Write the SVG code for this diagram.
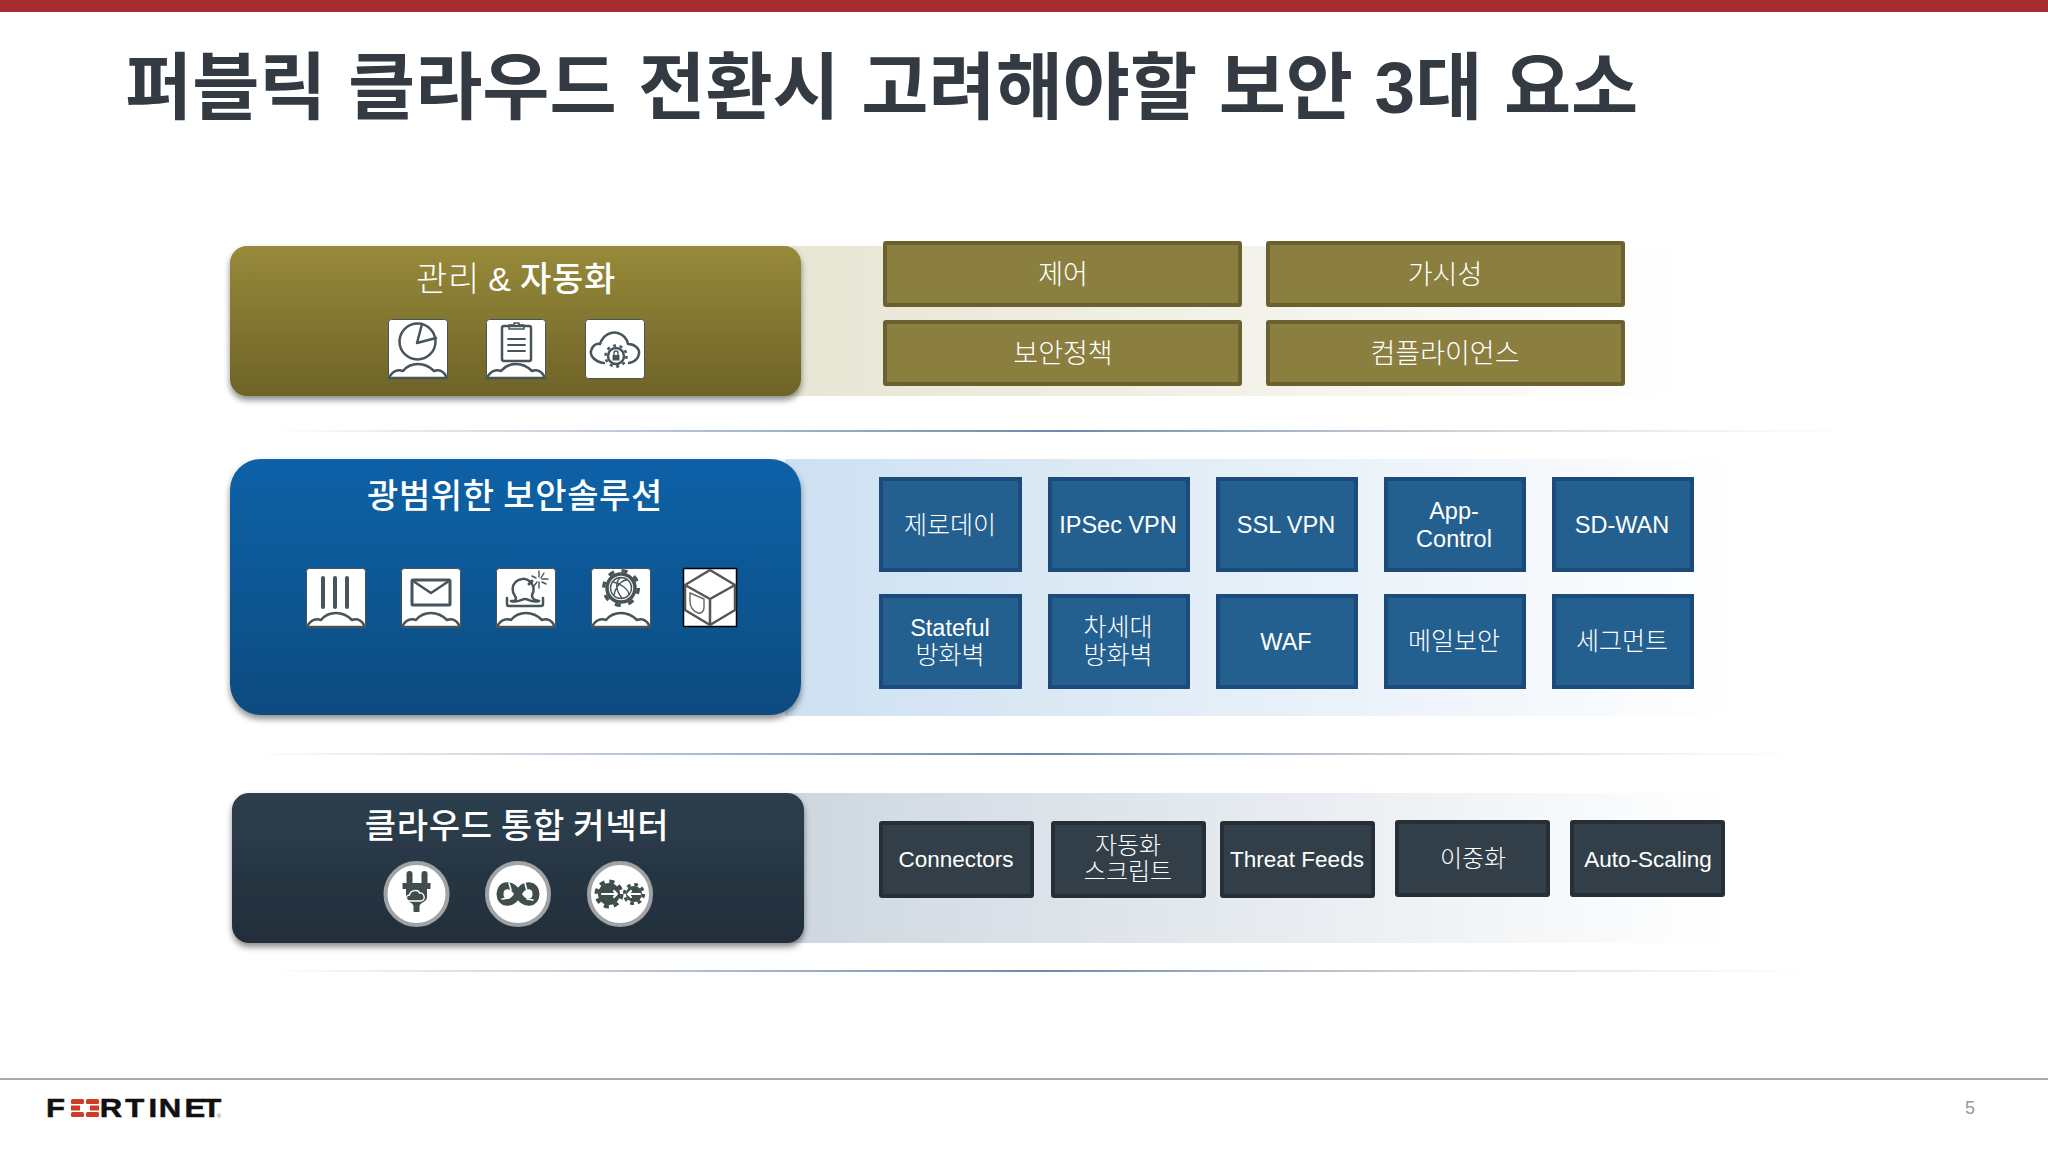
<svg xmlns="http://www.w3.org/2000/svg" width="2048" height="1152" viewBox="0 0 2048 1152">
<style>
text{font-family:"Liberation Sans","Noto Sans CJK KR",sans-serif;text-anchor:middle;fill:#fff}
.k{font-family:"Noto Sans CJK KR","Liberation Sans",sans-serif}
.ph{font-size:34px;letter-spacing:.7px}
.b{font-weight:700}
.m{font-weight:500}
.l{font-weight:300}
.ol{font-size:27px}
.bl{font-size:25px}
.dk{font-size:24px}
.la{font-size:23.5px}
.ld{font-size:22.5px}
.ob{fill:#8a7f3f;stroke:#6a6030;stroke-width:4}
.bb{fill:#24608f;stroke:#1c4b7a;stroke-width:4}
.db{fill:#323f49;stroke:#262f38;stroke-width:4}
.tile{fill:#fff;stroke:#47555a;stroke-width:1}
.i{fill:none;stroke:#47555a;stroke-width:2.5;stroke-linecap:round;stroke-linejoin:round}
.t{stroke-width:1.4}
.d{fill:#3f4d4c;stroke:none}
.w{fill:none;stroke:#fff;stroke-width:2.2;stroke-linecap:round;stroke-linejoin:round}
.c{fill:#fff;stroke:#a0a2a4;stroke-width:4}
</style>
<defs>
<linearGradient id="gO" x1="0" y1="0" x2="0" y2="1"><stop offset="0" stop-color="#978a3a"/><stop offset="1" stop-color="#6e6328"/></linearGradient>
<linearGradient id="gB" x1="0" y1="0" x2="0" y2="1"><stop offset="0" stop-color="#0f62a8"/><stop offset="1" stop-color="#0f4b80"/></linearGradient>
<linearGradient id="gD" x1="0" y1="0" x2="0" y2="1"><stop offset="0" stop-color="#2d3f4e"/><stop offset="1" stop-color="#222e3b"/></linearGradient>
<linearGradient id="bO"><stop offset="0" stop-color="#e7e5d3"/><stop offset="1" stop-color="#fff"/></linearGradient>
<linearGradient id="bB"><stop offset="0" stop-color="#cde0f1"/><stop offset="1" stop-color="#fff"/></linearGradient>
<linearGradient id="bD"><stop offset="0" stop-color="#ced7e0"/><stop offset="1" stop-color="#fff"/></linearGradient>
<linearGradient id="sep"><stop offset="0" stop-color="#6f88a8" stop-opacity="0"/><stop offset=".5" stop-color="#6f88a8"/><stop offset="1" stop-color="#c8c8c0" stop-opacity="0"/></linearGradient>
<filter id="sh" x="-5%" y="-5%" width="110%" height="115%"><feDropShadow dx="0" dy="4" stdDeviation="3" flood-color="#000" flood-opacity=".45"/></filter>
<g id="cloudTile">
<rect class="tile" x=".5" y=".5" width="59" height="59" rx="3"/>
<path d="M1 59 C4 52 10 50 15 52 C19 47 25 45 30 45 C36 45 42 48 46 52 C51 50 56 52 59 59 Z" fill="#fff" stroke="#47555a" stroke-width="2.5" stroke-linejoin="round"/>
</g>
</defs>
<rect width="2048" height="1152" fill="#fff"/>
<rect width="2048" height="12" fill="#a62c32"/>
<text id="title" class="k b" x="125" y="113" style="font-size:73px;text-anchor:start;fill:#333a42;word-spacing:5px">퍼블릭 클라우드 전환시 고려해야할 보안 <tspan style="font-family:'Liberation Sans'">3</tspan>대 요소</text>

<g id="bands">
<rect x="785" y="246" width="900" height="150" fill="url(#bO)"/>
<rect x="785" y="459" width="955" height="257" fill="url(#bB)"/>
<rect x="788" y="793" width="940" height="150" fill="url(#bD)"/>
</g>
<g id="separators">
<rect x="270" y="430" width="1590" height="2" fill="url(#sep)"/>
<rect x="250" y="753" width="1560" height="2" fill="url(#sep)"/>
<rect x="270" y="970" width="1550" height="2" fill="url(#sep)"/>
</g>

<g id="panel-mgmt">
<rect x="230" y="246" width="571" height="150" rx="17" fill="url(#gO)" filter="url(#sh)"/>
<text class="k ph" x="516" y="291"><tspan class="l">관리 </tspan><tspan style="font-family:'Liberation Sans'">&amp;</tspan> <tspan class="m">자동화</tspan></text>
<g transform="translate(388,319)"><use href="#cloudTile"/>
<circle class="i" cx="29.5" cy="22.5" r="18"/><path class="i" d="M34 5 L29 24 L48 19"/></g>
<g transform="translate(486,319)"><use href="#cloudTile"/>
<rect class="i" x="16" y="7" width="29" height="35" rx="2"/><path class="i" d="M23 10 H38 V6 H33 V4 H28 V6 H23 Z" style="stroke-width:1.6"/>
<path class="i" d="M22 20 H39 M22 26 H39 M22 32 H39" style="stroke-width:1.8"/></g>
<g transform="translate(585,319)"><rect class="tile" x=".5" y=".5" width="59" height="59" rx="3"/>
<path class="i" d="M19 44 C10 43 5 37 6 32 C7 27 11 24 15 25 C18 16 26 12 33 14 C39 16 42 20 43 25 C50 25 55 30 54 35 C53 40 49 43 44 44"/>
<circle cx="31" cy="37" r="8" fill="#fff" stroke="#47555a" stroke-width="2.5"/><circle cx="31" cy="37" r="10.5" fill="none" stroke="#47555a" stroke-width="2.5" stroke-dasharray="3 3.6"/>
<rect x="27.5" y="36" width="7" height="5.5" fill="#47555a"/><path d="M29 36 V34 A2 2 0 0 1 33 34 V36" fill="none" stroke="#47555a" stroke-width="1.4"/></g>
</g>

<g id="box-control"><rect class="ob" x="885" y="243" width="355" height="62" rx="1"/><text class="k l ol" x="1063" y="284">제어</text></g>
<g id="box-visibility"><rect class="ob" x="1268" y="243" width="355" height="62" rx="1"/><text class="k l ol" x="1445" y="284">가시성</text></g>
<g id="box-policy"><rect class="ob" x="885" y="322" width="355" height="62" rx="1"/><text class="k l ol" x="1063" y="363">보안정책</text></g>
<g id="box-compliance"><rect class="ob" x="1268" y="322" width="355" height="62" rx="1"/><text class="k l ol" x="1445" y="363">컴플라이언스</text></g>

<g id="panel-security">
<rect x="230" y="459" width="571" height="256" rx="31" fill="url(#gB)" filter="url(#sh)"/>
<text class="k m ph" x="515" y="508">광범위한 보안솔루션</text>
<g transform="translate(306,568)"><use href="#cloudTile"/><path class="i" d="M17 10 V39 M29 10 V39 M41 10 V39" style="stroke-width:4"/></g>
<g transform="translate(401,568)"><use href="#cloudTile"/><rect class="i" x="11" y="12" width="38" height="25" rx="1" style="stroke-width:3"/><path class="i" d="M12 13 L30 25 L48 13"/></g>
<g transform="translate(496,568)"><use href="#cloudTile"/>
<path class="i" d="M11 30 V36 Q11 38 13 38 H45 Q47 38 47 36 V30"/>
<path class="i" d="M15 33 C20 33 21 31 19 28 A10.5 10.5 0 1 1 36 27 C36 31 38 32 43 33 C35 35 33 31 29 31 C25 31 23 35 15 33 Z"/>
<path class="i" d="M33 16 L36 13" style="stroke-width:3"/>
<path class="i t" d="M43 3 V9 M43 14 V20 M36 8 L40 10 M46 14 L50 16 M48 5 L45 10 M41 14 L38 18 M46 11 H52"/></g>
<g transform="translate(591,568)"><use href="#cloudTile"/>
<circle cx="30" cy="20" r="14" fill="none" stroke="#47555a" stroke-width="3.5"/><circle cx="30" cy="20" r="17.3" fill="none" stroke="#47555a" stroke-width="3.4" stroke-dasharray="6 7.59"/>
<circle class="i t" cx="30" cy="20" r="10.5"/><path class="i t" d="M22 14 C29 15 37 21 38 26 M23 27 C24 20 30 12 36 12 M29 10 C24 15 25 23 31 30"/></g>
<g transform="translate(683,568)"><rect x=".5" y=".5" width="53" height="58" fill="#fff" stroke="#000" stroke-width="1.5"/>
<path d="M27 2 L52 17 V42 L27 57 L2 42 V17 Z M2 17 L27 31 L52 17 M27 31 V57" fill="none" stroke="#555" stroke-width="2.5" stroke-linejoin="round"/>
<path d="M7 25 L21 31 V40 C21 44 17 46 15 45 C10 43 7 39 7 33 Z" fill="none" stroke="#666" stroke-width="1.4"/></g>
</g>

<g id="box-zeroday"><rect class="bb" x="881" y="479" width="139" height="91"/><text class="k l bl" x="950" y="534">제로데이</text></g>
<g id="box-ipsec"><rect class="bb" x="1050" y="479" width="138" height="91"/><text class="la" x="1118" y="533">IPSec VPN</text></g>
<g id="box-ssl"><rect class="bb" x="1218" y="479" width="138" height="91"/><text class="la" x="1286" y="533">SSL VPN</text></g>
<g id="box-app"><rect class="bb" x="1386" y="479" width="138" height="91"/><text class="la" x="1454" y="519">App-</text><text class="la" x="1454" y="547">Control</text></g>
<g id="box-sdwan"><rect class="bb" x="1554" y="479" width="138" height="91"/><text class="la" x="1622" y="533">SD-WAN</text></g>
<g id="box-stateful"><rect class="bb" x="881" y="596" width="139" height="91"/><text class="la" x="950" y="636">Stateful</text><text class="k l bl" x="950" y="664">방화벽</text></g>
<g id="box-ngfw"><rect class="bb" x="1050" y="596" width="138" height="91"/><text class="k l bl" x="1118" y="636">차세대</text><text class="k l bl" x="1118" y="664">방화벽</text></g>
<g id="box-waf"><rect class="bb" x="1218" y="596" width="138" height="91"/><text class="la" x="1286" y="650">WAF</text></g>
<g id="box-mail"><rect class="bb" x="1386" y="596" width="138" height="91"/><text class="k l bl" x="1454" y="650">메일보안</text></g>
<g id="box-segment"><rect class="bb" x="1554" y="596" width="138" height="91"/><text class="k l bl" x="1622" y="650">세그먼트</text></g>

<g id="panel-cloud">
<rect x="232" y="793" width="572" height="150" rx="17" fill="url(#gD)" filter="url(#sh)"/>
<text class="k m ph" x="517" y="838">클라우드 통합 커넥터</text>
<g transform="translate(416.5,894)"><circle class="c" r="31"/>
<rect class="d" x="-10" y="-23" width="6" height="14" rx="3"/><rect class="d" x="5" y="-23" width="6" height="14" rx="3"/>
<path class="d" d="M-14 -11 H14 V-5 H10.5 V3 C10.5 8 4 8 3 12 V18 H-3 V12 C-4 8 -10.5 8 -10.5 3 V-5 H-14 Z"/>
<path class="w" d="M-7 7 C-11 7 -11 1 -7 1 C-6 -4 2 -5 3 -1 C8 -2 10 7 4 7 Z" style="stroke-width:1.3"/></g>
<g transform="translate(518,894)"><circle class="c" r="31"/>
<path d="M0 0 C-6 -12 -18 -10 -18 0 C-18 10 -6 12 0 0 C6 -12 18 -10 18 0 C18 10 6 12 0 0 Z" fill="none" stroke="#3f4d4c" stroke-width="7"/>
<path class="w" d="M-9 -11 L-7 -4 M-16 5 L-9 4 M7 -11 L9 -3 M15 6 L9 5" style="stroke-width:1.6"/></g>
<g transform="translate(620,894)"><circle class="c" r="31"/>
<circle cx="-11" r="11" fill="#3f4d4c"/><circle cx="-11" r="12.5" fill="none" stroke="#3f4d4c" stroke-width="4" stroke-dasharray="5 4.82"/>
<circle cx="14" r="8" fill="#3f4d4c"/><circle cx="14" r="9.5" fill="none" stroke="#3f4d4c" stroke-width="3.2" stroke-dasharray="3.7 3.76"/>
<path class="w" d="M-18 0 H-3 M-6 -3 L-3 0 L-6 3 M20 0 H8 M11 -3 L8 0 L11 3"/></g>
</g>

<g id="box-connectors"><rect class="db" x="881" y="823" width="151" height="73" rx="1"/><text class="ld" x="956" y="867">Connectors</text></g>
<g id="box-script"><rect class="db" x="1053" y="823" width="151" height="73" rx="1"/><text class="k l dk" x="1128" y="854">자동화</text><text class="k l dk" x="1128" y="880">스크립트</text></g>
<g id="box-feeds"><rect class="db" x="1222" y="823" width="151" height="73" rx="1"/><text class="ld" x="1297" y="867">Threat Feeds</text></g>
<g id="box-ha"><rect class="db" x="1397" y="822" width="151" height="73" rx="1"/><text class="k l dk" x="1473" y="867">이중화</text></g>
<g id="box-scaling"><rect class="db" x="1572" y="822" width="151" height="73" rx="1"/><text class="ld" x="1648" y="867">Auto-Scaling</text></g>

<g id="footer">
<rect y="1078" width="2048" height="2" fill="#a8a8a8"/>
<g transform="translate(46,1117) scale(1.22,1)"><text class="b" style="font-size:25.5px;text-anchor:start;fill:#111;stroke:#111;stroke-width:.5" x="0 22 44 65 84 92.5 113.5 128" y="0">F<tspan style="fill:none;stroke:none">O</tspan>RTINET</text></g>
<g fill="#d13a27"><rect x="71" y="1099" width="13" height="5" rx="1.5"/><rect x="86" y="1099" width="13" height="5" rx="1.5"/><rect x="71" y="1105.5" width="9" height="5"/><rect x="90" y="1105.5" width="9" height="5"/><rect x="71" y="1112" width="13" height="5" rx="1.5"/><rect x="86" y="1112" width="13" height="5" rx="1.5"/></g>
<text x="219" y="1118" style="font-size:6px;fill:#777">®</text>
<text x="1970" y="1114" style="font-size:18px;fill:#999">5</text>
</g>
</svg>
